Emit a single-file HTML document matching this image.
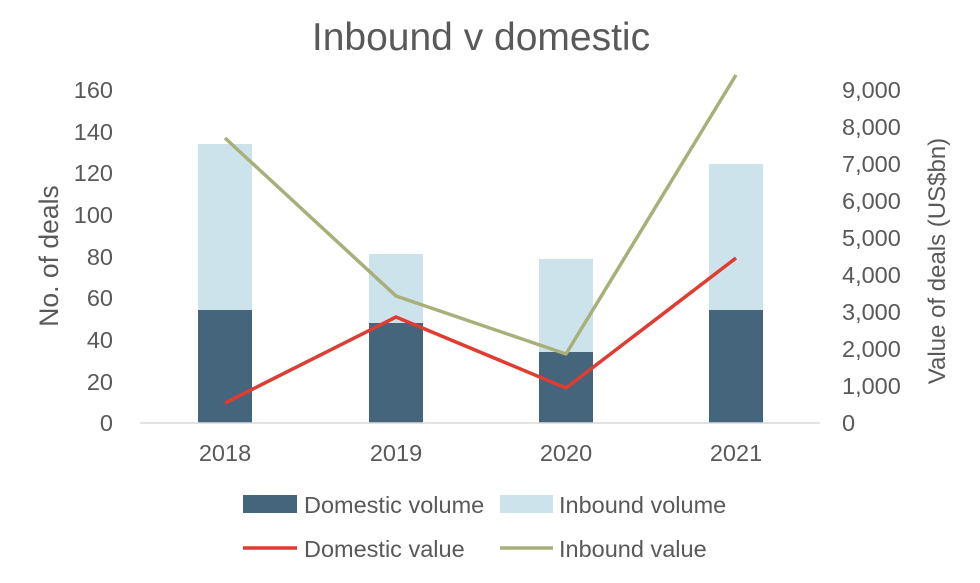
<!DOCTYPE html>
<html><head><meta charset="utf-8"><style>
body{margin:0;background:#fff;}
svg text{font-family:"Liberation Sans",Arial,sans-serif;fill:#595959;}
</style></head><body>
<svg width="980" height="578" viewBox="0 0 980 578" xmlns="http://www.w3.org/2000/svg">
<rect width="980" height="578" fill="#fff"/>
<text x="481" y="50" font-size="39" text-anchor="middle">Inbound v domestic</text>
<g font-size="23.5" text-anchor="end">
<text x="113" y="431">0</text>
<text x="113" y="390">20</text>
<text x="113" y="348">40</text>
<text x="113" y="306">60</text>
<text x="113" y="265">80</text>
<text x="113" y="223">100</text>
<text x="113" y="181">120</text>
<text x="113" y="140">140</text>
<text x="113" y="98">160</text>
</g>
<g font-size="23.5" text-anchor="start">
<text x="842" y="431">0</text>
<text x="842" y="394">1,000</text>
<text x="842" y="357">2,000</text>
<text x="842" y="320">3,000</text>
<text x="842" y="283">4,000</text>
<text x="842" y="246">5,000</text>
<text x="842" y="209">6,000</text>
<text x="842" y="172">7,000</text>
<text x="842" y="135">8,000</text>
<text x="842" y="98">9,000</text>
</g>
<text transform="translate(58,256) rotate(-90)" font-size="26.5" text-anchor="middle">No. of deals</text>
<text transform="translate(945,261) rotate(-90)" font-size="24" text-anchor="middle">Value of deals  (US$bn)</text>
<g fill="#cde3ec">
<rect x="198" y="144" width="54" height="166"/>
<rect x="369" y="254" width="54" height="69"/>
<rect x="539" y="259" width="54" height="93"/>
<rect x="709" y="164" width="54" height="146"/>
</g>
<g fill="#44657b">
<rect x="198" y="310" width="54" height="113"/>
<rect x="369" y="323" width="54" height="100"/>
<rect x="539" y="352" width="54" height="71"/>
<rect x="709" y="310" width="54" height="113"/>
</g>
<line x1="140" y1="423" x2="820" y2="423" stroke="#d9d9d9" stroke-width="1.5"/>
<polyline points="225,403 396,317 566,388 736,258" fill="none" stroke="#e03c31" stroke-width="3.5" stroke-linejoin="round"/>
<polyline points="225,138 396,296 566,354 736,75" fill="none" stroke="#a8b07a" stroke-width="3.5" stroke-linejoin="round"/>
<g font-size="23.5" text-anchor="middle">
<text x="225" y="461">2018</text>
<text x="396" y="461">2019</text>
<text x="566" y="461">2020</text>
<text x="736" y="461">2021</text>
</g>
<rect x="243" y="495" width="54" height="18" fill="#44657b"/>
<text x="304" y="513" font-size="23.5">Domestic volume</text>
<rect x="500" y="495" width="53" height="18" fill="#cde3ec"/>
<text x="559" y="513" font-size="23.5">Inbound volume</text>
<line x1="243" y1="548" x2="297" y2="548" stroke="#e03c31" stroke-width="3.5"/>
<text x="304" y="557" font-size="23.5">Domestic value</text>
<line x1="500" y1="548" x2="553" y2="548" stroke="#a8b07a" stroke-width="3.5"/>
<text x="559" y="557" font-size="23.5">Inbound value</text>
</svg>
</body></html>
